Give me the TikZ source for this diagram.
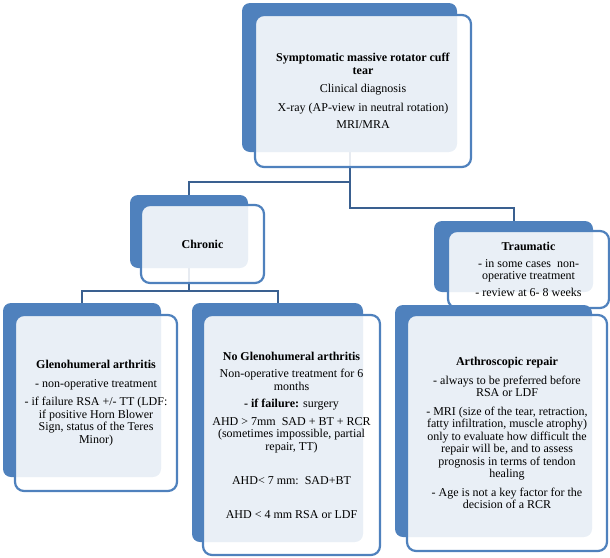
\documentclass[tikz,border=0pt]{standalone}
\usepackage{fontspec}
\setmainfont{Liberation Serif}
\usetikzlibrary{backgrounds}
\definecolor{boxblue}{RGB}{79,129,189}
\definecolor{linkblue}{RGB}{58,96,144}
\begin{document}
\begin{tikzpicture}
[x=1pt,y=-1pt,
 bg/.style={fill=boxblue,rounded corners=8pt,inner sep=0pt},
 card/.style={draw=boxblue,line width=2.2pt,rounded corners=9pt,fill=white,fill opacity=0.88,text opacity=1,align=center,inner sep=0pt,font=\fontsize{12}{12.5}\selectfont},
 link/.style={draw=linkblue,line width=2pt}]
\useasboundingbox (0,0) rectangle (610,557);
% top
\node[bg,minimum width=215pt,minimum height=149pt] (tearbg) at (349.5,77.5) {};
\node[card,minimum width=216pt,minimum height=152pt] (tear) at (363,91)
 {\textbf{Symptomatic massive rotator cuff}\\\textbf{tear}\\[6pt]
  Clinical diagnosis\\[6pt] X-ray (AP-view in neutral rotation)\\[5pt] MRI/MRA};
% second row
\node[bg,minimum width=118pt,minimum height=73pt] (chronicbg) at (189,231.5) {};
\node[card,minimum width=123pt,minimum height=78pt] (chronic) at (202.5,244) {\textbf{Chronic}};
\node[bg,minimum width=159pt,minimum height=71pt] (traumbg) at (513.5,256.5) {};
\node[card,minimum width=161pt,minimum height=77pt] (traum) at (528.5,269.5)
 {\textbf{Traumatic}\\[4pt] - in some cases\ \ non-\\operative treatment\\[4pt] - review at 6- 8 weeks};
% third row
\node[bg,minimum width=158pt,minimum height=174pt] (glenobg) at (82,390) {};
\node[card,minimum width=162pt,minimum height=176pt] (gleno) at (96,403)
 {\textbf{Glenohumeral arthritis}\\[6pt] - non-operative treatment\\[6pt]
  - if failure RSA +/- TT (LDF:\\ if positive Horn Blower\\ Sign, status of the Teres\\ Minor)};
\node[bg,minimum width=171pt,minimum height=239pt] (noglenobg) at (277.5,422.5) {};
\node[card,minimum width=177pt,minimum height=240pt] (nogleno) at (291.5,435)
 {\textbf{No Glenohumeral arthritis}\\[5pt] Non-operative treatment for 6\\ months\\[5pt]
  \textbf{- if failure:} surgery\\[5pt] AHD > 7mm\ \ SAD + BT + RCR\\ (sometimes impossible, partial\\ repair, TT)\\[22pt]
  AHD< 7 mm:\ \ SAD+BT\\[21pt] AHD < 4 mm RSA or LDF};
\node[bg,minimum width=197pt,minimum height=232pt] (arthrobg) at (493.5,421) {};
\node[card,minimum width=200pt,minimum height=236pt] (arthro) at (507,433)
 {\textbf{Arthroscopic repair}\\[6pt] - always to be preferred before\\ RSA or LDF\\[6pt]
  - MRI (size of the tear, retraction,\\ fatty infiltration, muscle atrophy)\\ only to evaluate how difficult the\\
  repair will be, and to assess\\ prognosis in terms of tendon\\ healing\\[6pt]
  - Age is not a key factor for the\\ decision of a RCR};
% links
\begin{pgfonlayer}{background}
\coordinate (tearhub) at ([yshift=-30pt]tearbg.south);
\coordinate (chronichub) at ([yshift=-23pt]chronicbg.south);
\draw[link] (tearbg.south) -- (tearhub) -| (chronicbg.north);
\draw[link] (tearhub) -- ++(0,26) -| (traumbg.north);
\draw[link] (chronicbg.south) -- (chronichub) -| (glenobg.north);
\draw[link] (chronichub) -| (noglenobg.north);
\end{pgfonlayer}
\end{tikzpicture}
\end{document}
